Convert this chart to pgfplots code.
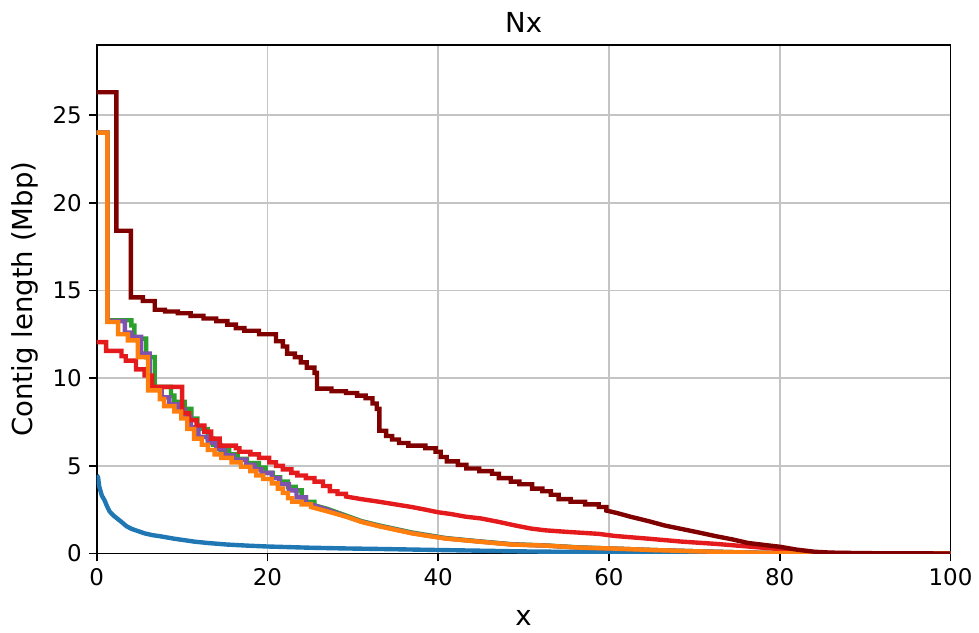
\documentclass[border=0pt]{standalone}
\usepackage{pgfplots}
\pgfplotsset{compat=1.18}
\usepackage{fontspec}
\setmainfont{DejaVu Sans}

\definecolor{nxblue}{HTML}{1F77B4}
\definecolor{nxorange}{HTML}{FF7F0E}
\definecolor{nxgreen}{HTML}{2CA02C}
\definecolor{nxpurple}{HTML}{7F52AE}
\definecolor{nxred}{HTML}{E41A1C}
\definecolor{nxdark}{HTML}{800000}
\definecolor{gridgray}{HTML}{C4C4C4}

\begin{document}
\begin{tikzpicture}
\begin{axis}[
  scale only axis,
  width=428pt, height=255pt,
  xmin=0, xmax=100, ymin=0, ymax=29,
  xtick={0,20,...,100}, ytick={0,5,...,25},
  grid=major,
  major grid style={color=gridgray, line width=0.85pt},
  axis line style={line width=0.9pt},
  tick align=outside, tick pos=left,
  major tick length=4pt,
  every tick/.style={black, line width=0.9pt},
  tick label style={font=\fontsize{11.5}{13}\selectfont},
  /pgf/number format/assume math mode=true,
  title={Nx},
  every axis title/.style={at={(axis description cs:0.5,1.045)}, anchor=center,
    font=\fontsize{13.8}{16}\selectfont},
  xlabel={x}, ylabel={Contig length (Mbp)},
  every axis x label/.style={at={(axis description cs:0.5,-0.127)}, anchor=center,
    font=\fontsize{13.8}{16}\selectfont},
  every axis y label/.style={at={(axis description cs:-0.084,0.5)}, anchor=center,
    rotate=90, font=\fontsize{13.8}{16}\selectfont},
  every axis plot/.append style={line width=2.2pt, line join=miter},
]
% blue assembly: many small contigs, smooth decay
\addplot[nxblue] coordinates {
(0,4.45) (0.15,4.35) (0.3,3.8) (0.45,3.55) (0.6,3.3) (0.9,3.05) (1.2,2.7) (1.5,2.4)
(2.0,2.15) (2.9,1.8) (3.5,1.55) (4.1,1.4) (5.0,1.25) (5.6,1.15) (6.5,1.05) (7.6,0.97)
(9.0,0.85) (11.4,0.68) (13,0.6) (15.3,0.51) (18,0.44) (20,0.4) (25,0.33) (29,0.29)
(33,0.26) (40,0.2) (45,0.16) (50,0.12) (56,0.09) (60,0.06) (65,0.04) (70,0.02)
(75,0.01) (80,0) (100,0)
};
% green assembly
\addplot[nxgreen] coordinates {
(0,24.0) (1.25,24.0) (1.25,13.3) (4.05,13.3) (4.05,13.0) (4.4,13.0) (4.4,12.25)
(5.8,12.25) (5.8,11.2) (6.8,11.2) (6.8,9.5) (8.7,9.5) (8.7,9.0) (9.1,9.0) (9.1,8.65)
(10.3,8.65) (10.3,8.25) (11.1,8.25) (11.1,7.7) (11.8,7.7) (11.8,7.1) (13.0,7.1)
(13.0,6.55) (13.6,6.55) (13.6,6.2) (14.5,6.2) (14.5,5.9) (15.5,5.9) (15.5,5.65)
(16.5,5.65) (16.5,5.4) (17.6,5.4) (17.6,5.15) (19.0,5.15) (19.0,4.9) (19.8,4.9)
(19.8,4.6) (20.6,4.6) (20.6,4.35) (21.5,4.35) (21.5,4.1) (22.4,4.1) (22.4,3.8)
(23.3,3.8) (23.3,3.6) (24.0,3.6) (24.0,3.2) (24.5,3.2) (24.5,2.95) (25.5,2.95)
(25.5,2.75) (27,2.55) (29,2.2) (31,1.85) (33.1,1.6) (36.9,1.2) (40.9,0.88) (44.7,0.7)
(48.6,0.53) (52.6,0.46) (56.4,0.35) (60.7,0.28) (65,0.2) (70,0.13) (75,0.07) (80,0.02)
(85,0.005) (100,0)
};
% purple assembly
\addplot[nxpurple] coordinates {
(0,24.0) (1.25,24.0) (1.25,13.25) (3.3,13.25) (3.3,12.6) (4.05,12.6) (4.05,12.35)
(5.2,12.35) (5.2,11.4) (6.2,11.4) (6.2,9.4) (7.6,9.4) (7.6,8.9) (8.5,8.9) (8.5,8.5)
(9.5,8.5) (9.5,8.2) (10.3,8.2) (10.3,7.8) (11.0,7.8) (11.0,7.2) (11.9,7.2) (11.9,6.65)
(13.0,6.65) (13.0,6.3) (14.0,6.3) (14.0,5.95) (15.0,5.95) (15.0,5.6) (16.0,5.6)
(16.0,5.35) (17.5,5.35) (17.5,5.05) (18.5,5.05) (18.5,4.8) (19.3,4.8) (19.3,4.6)
(20.5,4.6) (20.5,4.3) (21.4,4.3) (21.4,3.95) (22.5,3.95) (22.5,3.6) (23.4,3.6)
(23.4,3.2) (24.5,3.2) (24.5,2.9) (27,2.5) (29,2.15) (31,1.82) (33.1,1.57) (36.9,1.17)
(40.9,0.86) (44.7,0.69) (48.6,0.52) (52.6,0.45) (56.4,0.34) (60.7,0.28) (65,0.2)
(70,0.13) (75,0.07) (80,0.02) (85,0.005) (100,0)
};
% red assembly
\addplot[nxred] coordinates {
(0,12.05) (1.1,12.05) (1.1,11.55) (2.9,11.55) (2.9,11.25) (3.4,11.25) (3.4,11.0)
(4.6,11.0) (4.6,10.5) (5.6,10.5) (5.6,10.15) (6.5,10.15) (6.5,9.5) (10.0,9.5)
(10.0,8.0) (10.8,8.0) (10.8,7.6) (11.7,7.6) (11.7,7.3) (12.6,7.3) (12.6,6.95)
(13.4,6.95) (13.4,6.55) (14.4,6.55) (14.4,6.15) (16.3,6.15) (16.3,6.0) (16.7,6.0)
(16.7,5.8) (18.0,5.8) (18.0,5.65) (19.0,5.65) (19.0,5.45) (20.2,5.45) (20.2,5.2)
(21.0,5.2) (21.0,5.0) (21.8,5.0) (21.8,4.8) (22.8,4.8) (22.8,4.6) (23.5,4.6)
(23.5,4.45) (24.5,4.45) (24.5,4.3) (25.5,4.3) (25.5,4.1) (26.5,4.1) (26.5,3.85)
(27.3,3.85) (27.3,3.55) (28.2,3.55) (28.2,3.4) (29.2,3.4) (29.2,3.25) (31.0,3.1)
(33.1,2.95) (35.0,2.8) (36.9,2.65) (38.5,2.5) (40.0,2.35) (41.5,2.25) (43.2,2.1)
(45.0,2.0) (47.1,1.8) (49.0,1.6) (50.9,1.42) (52.6,1.32) (54.9,1.24) (58.8,1.12)
(60.7,1.0) (64.5,0.85) (68.5,0.68) (72.5,0.55) (76.3,0.4) (80,0.25) (82,0.1) (85,0.03)
(90,0.01) (100,0)
};
% orange assembly
\addplot[nxorange] coordinates {
(0,24.0) (1.25,24.0) (1.25,13.2) (2.5,13.2) (2.5,12.5) (3.65,12.5) (3.65,12.15)
(4.8,12.15) (4.8,11.2) (6.0,11.2) (6.0,9.3) (7.4,9.3) (7.4,8.8) (7.9,8.8) (7.9,8.4)
(9.1,8.4) (9.1,8.1) (9.9,8.1) (9.9,7.7) (10.6,7.7) (10.6,7.1) (11.4,7.1) (11.4,6.55)
(12.3,6.55) (12.3,6.2) (13.0,6.2) (13.0,5.9) (13.8,5.9) (13.8,5.65) (14.6,5.65)
(14.6,5.45) (15.8,5.45) (15.8,5.2) (16.9,5.2) (16.9,4.95) (18.0,4.95) (18.0,4.7)
(18.7,4.7) (18.7,4.45) (19.5,4.45) (19.5,4.25) (20.5,4.25) (20.5,4.0) (21.2,4.0)
(21.2,3.7) (21.8,3.7) (21.8,3.45) (22.4,3.45) (22.4,3.15) (22.9,3.15) (22.9,2.95)
(24.0,2.95) (24.0,2.8) (25.1,2.8) (25.1,2.65) (27.0,2.4) (29.2,2.1) (31,1.8) (33.1,1.55)
(35,1.35) (36.9,1.15) (38.8,1.0) (40.9,0.85) (44.7,0.68) (48.6,0.51) (52.6,0.45)
(56.4,0.34) (60.7,0.28) (65,0.2) (70,0.13) (75,0.07) (80,0.02) (85,0.005) (100,0)
};
% dark red assembly
\addplot[nxdark] coordinates {
(0,26.3) (2.3,26.3) (2.3,18.4) (4.0,18.4) (4.0,14.6) (5.4,14.6) (5.4,14.4) (6.8,14.4)
(6.8,13.9) (8.0,13.9) (8.0,13.8) (9.5,13.8) (9.5,13.7) (11.0,13.7) (11.0,13.55)
(12.5,13.55) (12.5,13.4) (14.0,13.4) (14.0,13.25) (15.3,13.25) (15.3,13.05)
(16.3,13.05) (16.3,12.85) (17.3,12.85) (17.3,12.7) (19.0,12.7) (19.0,12.5) (21.0,12.5)
(21.0,12.1) (21.8,12.1) (21.8,11.8) (22.3,11.8) (22.3,11.4) (23.2,11.4) (23.2,11.2)
(23.9,11.2) (23.9,10.9) (24.6,10.9) (24.6,10.6) (25.5,10.6) (25.5,10.3) (25.8,10.3)
(25.8,9.4) (27.5,9.4) (27.5,9.25) (29.2,9.25) (29.2,9.15) (30.5,9.15) (30.5,9.0)
(31.5,9.0) (31.5,8.85) (32.3,8.85) (32.3,8.55) (32.8,8.55) (32.8,8.25) (33.1,8.25)
(33.1,7.0) (33.9,7.0) (33.9,6.7) (34.6,6.7) (34.6,6.5) (35.4,6.5) (35.4,6.3)
(36.5,6.3) (36.5,6.15) (38.5,6.15) (38.5,6.0) (39.7,6.0) (39.7,5.8) (40.3,5.8)
(40.3,5.5) (41.0,5.5) (41.0,5.25) (42.3,5.25) (42.3,5.05) (43.3,5.05) (43.3,4.85)
(44.8,4.85) (44.8,4.7) (46.3,4.7) (46.3,4.55) (47.1,4.55) (47.1,4.3) (48.5,4.3)
(48.5,4.1) (49.5,4.1) (49.5,3.95) (51.0,3.95) (51.0,3.7) (52.2,3.7) (52.2,3.55)
(53.2,3.55) (53.2,3.35) (54.1,3.35) (54.1,3.1) (55.5,3.1) (55.5,2.95) (57.2,2.95)
(57.2,2.8) (58.8,2.8) (58.8,2.65) (59.7,2.65) (59.7,2.45) (61,2.3) (62.5,2.1) (64.6,1.85)
(66.5,1.6) (68.5,1.4) (70.5,1.2) (72.4,1.0) (74.5,0.8) (76.3,0.6) (78,0.5) (80.1,0.38)
(82,0.22) (84.1,0.1) (86,0.05) (90,0.02) (100,0)
};
\end{axis}
\path ([shift={(-48.5pt,-39pt)}]current axis.south west)
  rectangle ([shift={(13pt,22.5pt)}]current axis.north east);
\end{tikzpicture}
\end{document}
